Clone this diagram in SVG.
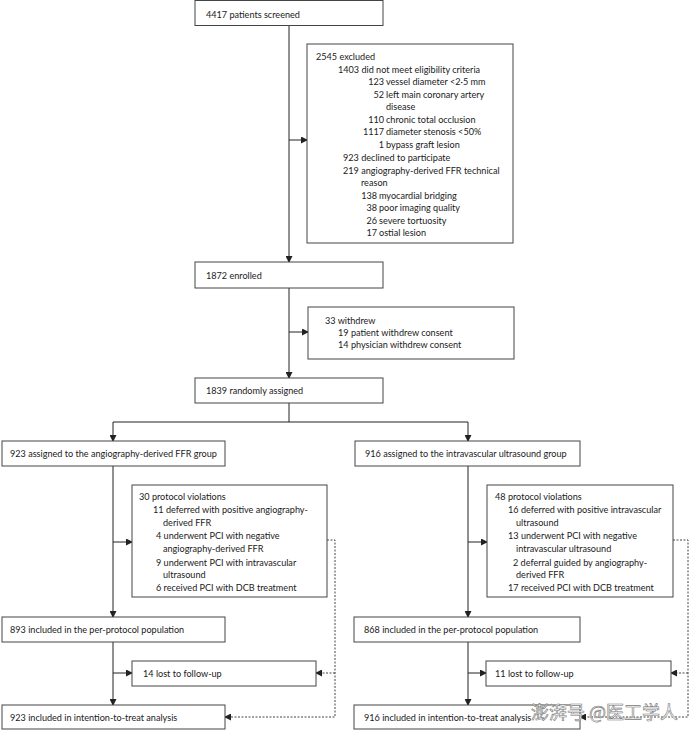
<svg xmlns="http://www.w3.org/2000/svg" width="690" height="731" viewBox="0 0 690 731">
<style>
.box{fill:#fff;stroke:#444;stroke-width:1}
.ln{fill:none;stroke:#222;stroke-width:1}
.dash{fill:none;stroke:#444;stroke-width:1;stroke-dasharray:2,1.5}
text{font-family:Lato,"Open Sans","Liberation Sans",sans-serif;font-size:9.1px;fill:#1a1a1a;dominant-baseline:central}
.wm{font-family:"Noto Sans CJK SC",sans-serif;font-size:18px;fill:#fff;stroke:#777;stroke-width:0.6}
</style>
<defs>
<marker id="ah" markerWidth="7" markerHeight="7" refX="6" refY="3.5" orient="auto" markerUnits="userSpaceOnUse">
<path d="M0,0 L7,3.5 L0,7 z" fill="#222"/>
</marker>
</defs>
<g id="connectors">
<path class="ln" d="M289,25 V262" marker-end="url(#ah)"/>
<path class="ln" d="M289,140 H307" marker-end="url(#ah)"/>
<path class="ln" d="M289,288 V378" marker-end="url(#ah)"/>
<path class="ln" d="M289,332 H308" marker-end="url(#ah)"/>
<path class="ln" d="M289,403 V422"/>
<path class="ln" d="M113,422 H468"/>
<path class="ln" d="M113,422 V441" marker-end="url(#ah)"/>
<path class="ln" d="M468,422 V441" marker-end="url(#ah)"/>
<path class="ln" d="M113,466 V617" marker-end="url(#ah)"/>
<path class="ln" d="M113,542 H132" marker-end="url(#ah)"/>
<path class="ln" d="M113,642 V705" marker-end="url(#ah)"/>
<path class="ln" d="M113,673 H132" marker-end="url(#ah)"/>
<path class="ln" d="M468,466 V617" marker-end="url(#ah)"/>
<path class="ln" d="M468,542 H487" marker-end="url(#ah)"/>
<path class="ln" d="M468,642 V705" marker-end="url(#ah)"/>
<path class="ln" d="M468,673 H486" marker-end="url(#ah)"/>
<path class="dash" d="M327,540 H335 V717 H225" marker-end="url(#ah)"/>
<path class="dash" d="M335,673 H316" marker-end="url(#ah)"/>
<path class="dash" d="M673,540 H688 V717 H580" marker-end="url(#ah)"/>
<path class="dash" d="M688,673 H671" marker-end="url(#ah)"/>
</g>
<g id="screened">
<rect class="box" x="195" y="0.5" width="188" height="25"/>
<text x="206" y="14">4417 patients screened</text>
</g>
<g id="excluded">
<rect class="box" x="307" y="44" width="206" height="199"/>
<text x="316" y="56">2545 excluded</text>
<text x="338" y="69">1403 did not meet eligibility criteria</text>
<text x="384" y="81" text-anchor="end">123</text><text x="386" y="81">vessel diameter &lt;2·5 mm</text>
<text x="384" y="94" text-anchor="end">52</text><text x="386" y="94">left main coronary artery</text>
<text x="386" y="106">disease</text>
<text x="384" y="119" text-anchor="end">110</text><text x="386" y="119">chronic total occlusion</text>
<text x="384" y="131" text-anchor="end">1117</text><text x="386" y="131">diameter stenosis &lt;50%</text>
<text x="384" y="144" text-anchor="end">1</text><text x="386" y="144">bypass graft lesion</text>
<text x="343" y="157">923 declined to participate</text>
<text x="343" y="170">219 angiography-derived FFR technical</text>
<text x="361" y="182">reason</text>
<text x="377" y="195" text-anchor="end">138</text><text x="379" y="195">myocardial bridging</text>
<text x="377" y="207" text-anchor="end">38</text><text x="379" y="207">poor imaging quality</text>
<text x="377" y="220" text-anchor="end">26</text><text x="379" y="220">severe tortuosity</text>
<text x="377" y="232" text-anchor="end">17</text><text x="379" y="232">ostial lesion</text>
</g>
<g id="enrolled">
<rect class="box" x="195" y="262" width="188" height="26"/>
<text x="206" y="275">1872 enrolled</text>
</g>
<g id="withdrew">
<rect class="box" x="308" y="307" width="206" height="52"/>
<text x="325" y="320">33 withdrew</text>
<text x="338" y="332">19 patient withdrew consent</text>
<text x="338" y="344">14 physician withdrew consent</text>
</g>
<g id="randomised">
<rect class="box" x="195" y="378" width="188" height="25"/>
<text x="206" y="390">1839 randomly assigned</text>
</g>
<g id="ffr-group">
<rect class="box" x="2" y="441" width="223" height="25"/>
<text x="10" y="453">923 assigned to the angiography-derived FFR group</text>
</g>
<g id="ivus-group">
<rect class="box" x="355" y="441" width="225" height="25"/>
<text x="365" y="453">916 assigned to the intravascular ultrasound group</text>
</g>
<g id="ffr-violations">
<rect class="box" x="132" y="485" width="195" height="112"/>
<text x="139" y="496">30 protocol violations</text>
<text x="153" y="509">11 deferred with positive angiography-</text>
<text x="163" y="522">derived FFR</text>
<text x="156" y="535">4 underwent PCI with negative</text>
<text x="163" y="548">angiography-derived FFR</text>
<text x="156" y="562">9 underwent PCI with intravascular</text>
<text x="163" y="574">ultrasound</text>
<text x="156" y="587">6 received PCI with DCB treatment</text>
</g>
<g id="ivus-violations">
<rect class="box" x="487" y="485" width="186" height="112"/>
<text x="495" y="496">48 protocol violations</text>
<text x="508" y="509">16 deferred with positive intravascular</text>
<text x="516" y="522">ultrasound</text>
<text x="508" y="535">13 underwent PCI with negative</text>
<text x="516" y="548">intravascular ultrasound</text>
<text x="513" y="562">2 deferral guided by angiography-</text>
<text x="516" y="574">derived FFR</text>
<text x="508" y="587">17 received PCI with DCB treatment</text>
</g>
<g id="ffr-pp">
<rect class="box" x="2" y="617" width="223" height="25"/>
<text x="10" y="629">893 included in the per-protocol population</text>
</g>
<g id="ivus-pp">
<rect class="box" x="354" y="617" width="226" height="25"/>
<text x="364" y="629">868 included in the per-protocol population</text>
</g>
<g id="ffr-lost">
<rect class="box" x="132" y="661" width="184" height="25"/>
<text x="143" y="673">14 lost to follow-up</text>
</g>
<g id="ivus-lost">
<rect class="box" x="486" y="661" width="185" height="25"/>
<text x="495" y="673">11 lost to follow-up</text>
</g>
<g id="ffr-itt">
<rect class="box" x="2" y="705" width="223" height="24"/>
<text x="10" y="717">923 included in intention-to-treat analysis</text>
</g>
<g id="ivus-itt">
<rect class="box" x="354" y="705" width="226" height="24"/>
<text x="364" y="717">916 included in intention-to-treat analysis</text>
</g>
<text class="wm" x="531" y="711">澎湃号 @医工学人</text>
</svg>
